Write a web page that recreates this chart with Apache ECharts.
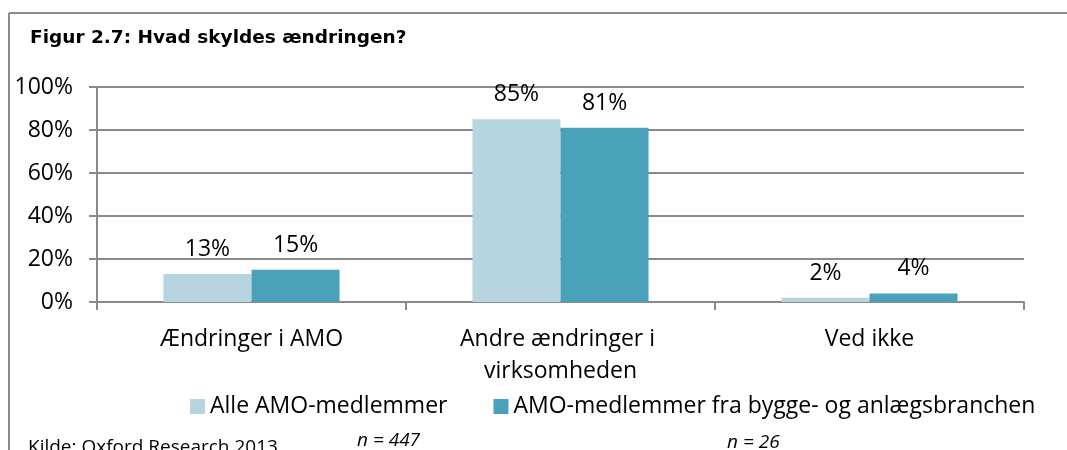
<!DOCTYPE html>
<html>
<head>
<meta charset="utf-8">
<script src="https://cdn.jsdelivr.net/npm/echarts@6/dist/echarts.min.js"></script>
<style>
  html, body { margin: 0; padding: 0; background: #fff; }
  #chart { width: 1067px; height: 450px; }
</style>
</head>
<body>
<div id="chart"></div>
<script>
const categories = ['Ændringer i AMO', 'Andre ændringer i virksomheden', 'Ved ikke']
const seriesNames = ['Alle AMO-medlemmer', 'AMO-medlemmer fra bygge- og anlægsbranchen']
const alleValues = [13, 85, 2]
const byggeValues = [15, 81, 4]
const yTicks = [0, 20, 40, 60, 80, 100]
const sampleNotes = ['n = 447', 'n = 26']

const font = '"Open Sans", sans-serif'
const gray = '#8a8a8a'

const chart = echarts.init(document.getElementById('chart'), null, { renderer: 'canvas' })

const labelStyle = {
  show: true,
  position: 'top',
  distance: 13,
  formatter: '{c}%',
  color: '#000',
  fontFamily: font,
  fontSize: 23
}

chart.setOption({
  animation: false,
  backgroundColor: '#fff',
  grid: { left: 97, right: 43, top: 87, bottom: 148 },
  legend: {
    left: 185,
    top: 390,
    itemWidth: 15,
    itemHeight: 15,
    itemGap: 46,
    icon: 'rect',
    textStyle: { fontFamily: font, fontSize: 23, color: '#000' },
    data: seriesNames
  },
  xAxis: {
    type: 'category',
    data: categories,
    axisLine: { lineStyle: { color: gray, width: 2 } },
    axisTick: { show: true, length: 8, lineStyle: { color: gray, width: 2 } },
    axisLabel: {
      color: '#000',
      fontFamily: font,
      fontSize: 23,
      margin: 21,
      lineHeight: 32,
      width: 240,
      overflow: 'break',
      interval: 0
    }
  },
  yAxis: {
    type: 'value',
    min: yTicks[0],
    max: yTicks[yTicks.length - 1],
    interval: 20,
    axisLine: { show: true, lineStyle: { color: gray, width: 2 } },
    axisTick: { show: true, length: 8, lineStyle: { color: gray, width: 2 } },
    axisLabel: {
      formatter: '{value}%',
      color: '#000',
      fontFamily: font,
      fontSize: 23,
      margin: 24
    },
    splitLine: { show: true, lineStyle: { color: gray, width: 2 } }
  },
  series: [
    {
      name: seriesNames[0],
      type: 'bar',
      data: alleValues,
      barGap: '0%',
      barCategoryGap: '43%',
      itemStyle: { color: '#b7d5e0' },
      label: labelStyle
    },
    {
      name: seriesNames[1],
      type: 'bar',
      data: byggeValues,
      barGap: '0%',
      barCategoryGap: '43%',
      itemStyle: { color: '#49a2ba' },
      label: labelStyle
    }
  ],
  graphic: [
    // frame: left and top edges only
    { type: 'line', shape: { x1: 9, y1: 13, x2: 1067, y2: 13 }, style: { stroke: '#8c8c8c', lineWidth: 2 } },
    { type: 'line', shape: { x1: 9, y1: 13, x2: 9, y2: 450 }, style: { stroke: '#8c8c8c', lineWidth: 2 } },
    {
      type: 'text', left: 30, top: 29,
      style: { text: 'Figur 2.7: Hvad skyldes ændringen?', font: 'bold 18.5px "DejaVu Sans", Verdana, sans-serif', fill: '#000' }
    },
    {
      type: 'text', left: 28, top: 438,
      style: { text: 'Kilde: Oxford Research 2013.', font: '19px "Open Sans", sans-serif', fill: '#000' }
    },
    {
      type: 'text', left: 357, top: 431,
      style: { text: sampleNotes[0], font: 'italic 19px "Open Sans", sans-serif', fill: '#000' }
    },
    {
      type: 'text', left: 727, top: 433,
      style: { text: sampleNotes[1], font: 'italic 19px "Open Sans", sans-serif', fill: '#000' }
    }
  ]
})
</script>
</body>
</html>
